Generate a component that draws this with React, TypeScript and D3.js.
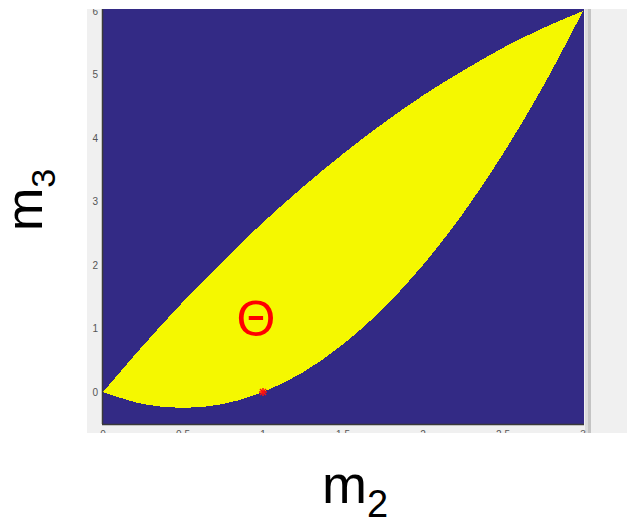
import React from "react";
import * as d3 from "d3";

// Second central moment grid
const m2Values = [0, 0.25, 0.5, 0.75, 1, 1.25, 1.5, 1.75, 2, 2.25, 2.5, 2.75, 3];
// Lower boundary of the feasible region (third central moment)
const m3Lower = [0, -0.19, -0.25, -0.19, 0, 0.31, 0.75, 1.31, 2, 2.81, 3.75, 4.81, 6];
// Upper boundary of the feasible region
const m3Upper = [0, 0.73, 1.42, 2.06, 2.67, 3.23, 3.75, 4.23, 4.67, 5.06, 5.42, 5.73, 6];

const xTicks = [0, 0.5, 1, 1.5, 2, 2.5, 3];
const yTicks = [0, 1, 2, 3, 4, 5, 6];

// Marked point
const markPoint = { m2: 1, m3: 0 };

const W = 627;
const H = 529;

export default function App() {
  const x = d3.scaleLinear().domain([0, 3]).range([103, 583]);
  const y = d3.scaleLinear().domain([0, 6]).range([392, 11]);

  const plotLeft = 102;
  const plotRight = 584;
  const plotTop = 9;
  const plotBottom = 424;

  const upperPts: [number, number][] = m2Values.map((v, i) => [v, m3Upper[i]]);
  const lowerPts: [number, number][] = m2Values.map((v, i) => [v, m3Lower[i]]).reverse() as [number, number][];

  const line = d3
    .line<[number, number]>()
    .x((d) => x(d[0]))
    .y((d) => y(d[1]))
    .curve(d3.curveCatmullRom);

  const regionPath = (line(upperPts) || "") + (line(lowerPts) || "").replace(/^M/, "L") + "Z";

  const starSize = 4;
  const sx = x(markPoint.m2);
  const sy = y(markPoint.m3);

  return (
    <svg
      width={W}
      height={H}
      style={{ position: "absolute", left: 0, top: 0, background: "#ffffff" }}
      fontFamily="'Liberation Sans', Arial, sans-serif"
    >
      <defs>
        <clipPath id="panelClip">
          <rect x={87} y={9} width={540} height={424} />
        </clipPath>
        <clipPath id="axClip">
          <rect x={plotLeft} y={plotTop} width={plotRight - plotLeft} height={plotBottom - plotTop} />
        </clipPath>
      </defs>

      <g clipPath="url(#panelClip)">
        <rect x={87} y={9} width={540} height={424} fill="#f0f0f0" />
        {/* side bar */}
        <rect x={585} y={9} width={3} height={424} fill="#dcdcdc" />
        <rect x={588} y={9} width={3} height={424} fill="#c4c4c4" />

        {/* image area */}
        <rect x={plotLeft} y={plotTop} width={plotRight - plotLeft} height={plotBottom - plotTop} fill="#332a85" />
        <g clipPath="url(#axClip)">
          <path d={regionPath} fill="#f5f800" shapeRendering="crispEdges" />
        </g>
        <line x1={plotLeft + 0.5} x2={plotLeft + 0.5} y1={plotTop} y2={plotBottom} stroke="#3a3a3a" strokeWidth={1.5} />
        <line x1={plotLeft} x2={plotRight} y1={plotBottom + 0.5} y2={plotBottom + 0.5} stroke="#3a3a3a" strokeWidth={1.5} />

        {yTicks.map((t) => (
          <text key={"y" + t} x={98} y={y(t)} dy="0.35em" textAnchor="end" fontSize={10} fill="#555">
            {t}
          </text>
        ))}
        {xTicks.map((t) => (
          <text key={"x" + t} x={x(t)} y={438} textAnchor="middle" fontSize={10} fill="#555">
            {t}
          </text>
        ))}

        {/* marked point */}
        <g stroke="#ff1010" strokeWidth={1.5}>
          <line x1={sx - starSize} x2={sx + starSize} y1={sy} y2={sy} />
          <line x1={sx} x2={sx} y1={sy - starSize} y2={sy + starSize} />
          <line x1={sx - 3} x2={sx + 3} y1={sy - 3} y2={sy + 3} />
          <line x1={sx - 3} x2={sx + 3} y1={sy + 3} y2={sy - 3} />
        </g>

        <text x={256} y={336} textAnchor="middle" fontSize={50} fill="#ff0000">
          Θ
        </text>
      </g>

      {/* axis titles */}
      <text x={322} y={503} fontSize={54} fill="#000">
        m<tspan fontSize={38} dy={14}>2</tspan>
      </text>
      <text transform="translate(42,231) rotate(-90)" fontSize={52} fill="#000">
        m<tspan fontSize={34} dy={13}>3</tspan>
      </text>
    </svg>
  );
}
